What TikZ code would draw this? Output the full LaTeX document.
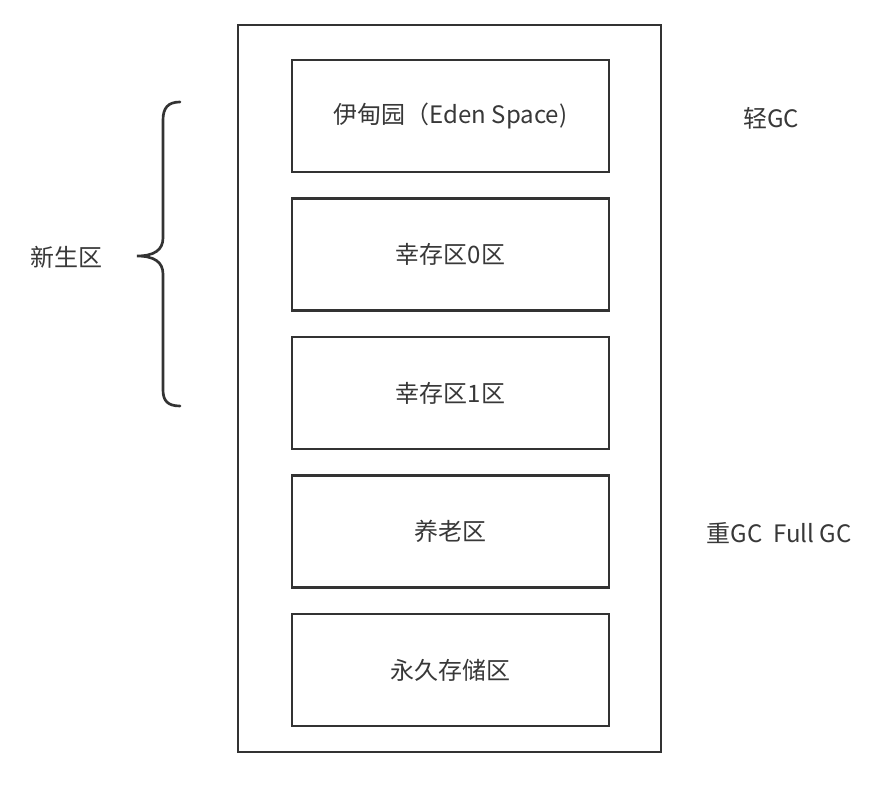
\documentclass[tikz,border=0pt]{standalone}
\usepackage{fontspec}
\setmainfont{Noto Sans CJK SC}
\usepackage{xcolor}
\usetikzlibrary{positioning}

\definecolor{edge}{HTML}{333333}
\definecolor{ink}{HTML}{383838}

\begin{document}
\begin{tikzpicture}[
  x=0.75pt, y=-0.75pt,
  zone/.style={draw=edge, line width=2pt, minimum width=237.75pt, minimum height=84pt,
               align=center, font=\fontsize{18}{22}\selectfont, text=ink, inner sep=0pt},
  heap/.style={draw=edge, line width=2pt, minimum width=317.25pt, minimum height=545.25pt, inner sep=0pt},
  note/.style={font=\fontsize{18}{22}\selectfont, text=ink, inner sep=0pt},
  brace/.style={draw=edge, line width=2pt, line cap=round},
  node distance=17.9pt
]
  \useasboundingbox (0,0) rectangle (882,787);

  \node[heap] (jvm) at (449.5,388.5) {};
  \node[zone] (eden) at (450.5,116) {伊甸园（Eden Space)};
  \node[zone, below=of eden] (s0) {幸存区0区};
  \node[zone, below=of s0] (s1) {幸存区1区};
  \node[zone, below=of s1] (old) {养老区};
  \node[zone, below=of old] (perm) {永久存储区};

  \node[note] (young) at (67,257) {新生区};
  \node[note] (minor) at (771,118) {轻GC};
  \node[note] (major) at (779,533) {重GC\ \ Full GC};

  % brace for the young generation
  \draw[brace] (180,102) .. controls (168,102) and (163,108) .. (163,120)
    -- (163,238) .. controls (163,250) and (154,256) .. (137,256)
    .. controls (154,256) and (163,262) .. (163,274)
    -- (163,390) .. controls (163,401) and (168,406) .. (180,406);
\end{tikzpicture}
\end{document}
